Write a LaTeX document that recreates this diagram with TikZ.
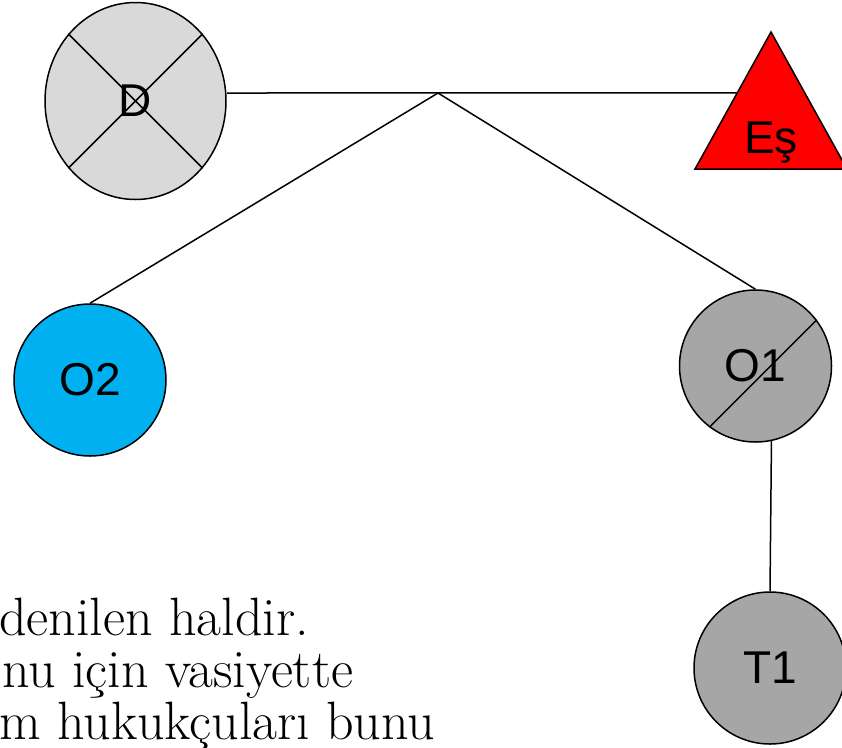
\documentclass[tikz,border=0pt]{standalone}
\usepackage{fontspec}
\newfontfamily\arialfont{Liberation Sans}
\usepackage{xcolor}
\usetikzlibrary{calc, shapes.geometric, positioning}

\definecolor{acikgri}{HTML}{D9D9D9}
\definecolor{koyugri}{HTML}{A6A6A6}
\definecolor{mavi}{HTML}{00B0F0}

\tikzset{
    cizgi/.style={line width=1.5pt},
    kisi/.style={circle, draw, cizgi, inner sep=0pt, minimum size=152,
        font=\arialfont\fontsize{46}{50}\selectfont},
    metin/.style={anchor=base west, inner sep=0pt,
        font=\fontsize{54}{58}\selectfont}
}

\begin{document}
\begin{tikzpicture}[x=1pt, y=-1pt]
    \useasboundingbox (0,0) rectangle (842,747);

    % =================================================================
    % 1. TOA DO CAC DIEM CHINH
    % =================================================================
    \coordinate (J) at (438,93);
    \coordinate (EsTop) at (771,32);
    \coordinate (EsL) at (695,169);
    \coordinate (EsR) at (847,169);

    % =================================================================
    % 2. CAC NUT (HINH TRON, HINH ELIP)
    % =================================================================
    \node[kisi, ellipse, fill=acikgri, minimum width=181, minimum height=197]
        (D) at (135.5,101) {D};
    \node[kisi, fill=mavi] (O2) at (90,380) {O2};
    \node[kisi, fill=koyugri] (O1) at (755.5,366) {O1};
    \node[kisi, fill=koyugri] (T1) at (770,668) {T1};

    % Tam giac Es
    \filldraw[fill=red, cizgi] (EsTop) -- (EsL) -- (EsR) -- cycle;
    \node[anchor=base, inner sep=0pt, font=\arialfont\fontsize{46}{50}\selectfont]
        (Es) at (771,153) {Eş};

    % Cac duong cheo trong nut
    \draw[cizgi] (D.45) -- (D.225);
    \draw[cizgi] (D.135) -- (D.315);
    \draw[cizgi] (O1.233) -- (O1.37);

    % =================================================================
    % 3. CAC DOAN THANG NOI
    % =================================================================
    \draw[cizgi] (J -| D.east) -- ($(EsL)!0.555!(EsTop)$);
    \draw[cizgi] (J) -- (O2.north);
    \draw[cizgi] (J) -- (O1.north);
    \draw[cizgi] (O1.-78) -- (T1.north);

    % =================================================================
    % 4. DOAN VAN BEN DUOI
    % =================================================================
    \node[metin] (s1) at (-1,635) {denilen haldir.};
    \node[metin] (s2) at (2,687) {nu için vasiyette};
    \node[metin] (s3) at (-1,739) {m hukukçuları bunu};

\end{tikzpicture}
\end{document}
